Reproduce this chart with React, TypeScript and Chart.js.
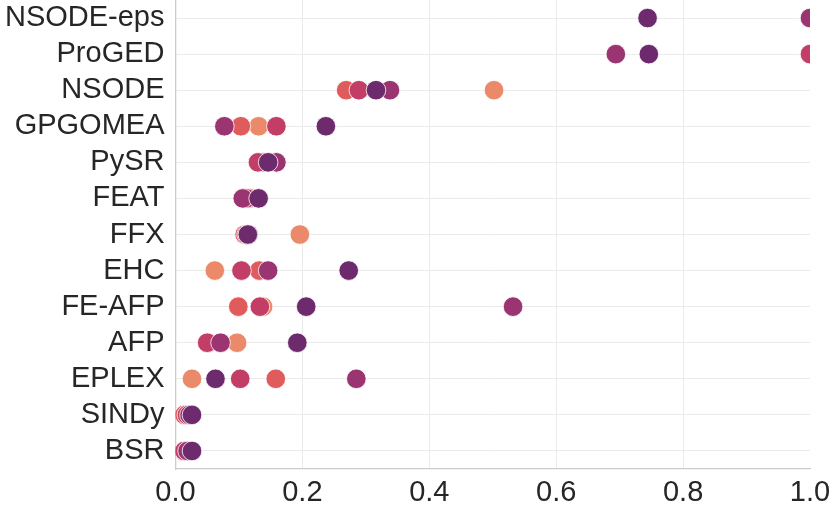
import { useEffect, useRef } from 'react';
import Chart from 'chart.js/auto';

const categories = ['NSODE-eps', 'ProGED', 'NSODE', 'GPGOMEA', 'PySR', 'FEAT', 'FFX', 'EHC', 'FE-AFP', 'AFP', 'EPLEX', 'SINDy', 'BSR'];

const seriesNames = ['Series 1', 'Series 2', 'Series 3', 'Series 4', 'Series 5'];
const seriesColors = ['#EB8A6A', '#E05B5B', '#C23E67', '#9B3571', '#6D2A6D'];

const series1 = [1.0, 1.0, 0.502, 0.131, 0.140, 0.120, 0.196, 0.062, 0.138, 0.097, 0.026, 0.013, 0.012];
const series2 = [1.0, 1.0, 0.269, 0.103, 0.138, 0.117, 0.109, 0.132, 0.099, 0.052, 0.158, 0.014, 0.013];
const series3 = [1.0, 1.0, 0.289, 0.159, 0.130, 0.112, 0.112, 0.104, 0.133, 0.050, 0.102, 0.018, 0.014];
const series4 = [1.0, 0.694, 0.338, 0.077, 0.159, 0.106, 0.115, 0.146, 0.532, 0.071, 0.285, 0.022, 0.019];
const series5 = [0.744, 0.746, 0.316, 0.237, 0.146, 0.131, 0.114, 0.273, 0.206, 0.192, 0.063, 0.026, 0.026];

const allSeries = [series1, series2, series3, series4, series5];

const xTicks = [0, 0.2, 0.4, 0.6, 0.8, 1.0];

export default function App() {
  const chartRef = useRef<HTMLCanvasElement>(null);
  const chartInstance = useRef<Chart | null>(null);

  useEffect(() => {
    if (!chartRef.current) return;
    const ctx = chartRef.current.getContext('2d');
    if (!ctx) return;
    if (chartInstance.current) chartInstance.current.destroy();

    const font = { family: '"Liberation Sans", Arial, sans-serif', size: 29 };

    chartInstance.current = new Chart(ctx, {
      type: 'scatter',
      data: {
        datasets: allSeries.map((vals, i) => ({
          label: seriesNames[i],
          data: vals.map((v, j) => ({ x: v, y: categories[j] })),
          backgroundColor: seriesColors[i],
          borderColor: '#ffffff',
          borderWidth: 0.8,
          pointRadius: 9.8,
          pointHoverRadius: 9.8,
          clip: 0,
          // later series drawn on top
          order: allSeries.length - 1 - i,
        })),
      },
      options: {
        animation: false,
        responsive: false,
        maintainAspectRatio: false,
        layout: { autoPadding: false, padding: { top: 0, right: 21, bottom: 0, left: 0 } },
        plugins: {
          legend: { display: false },
          tooltip: { enabled: false },
        },
        scales: {
          x: {
            type: 'linear',
            min: 0,
            max: 1,
            afterBuildTicks: (scale) => {
              scale.ticks = xTicks.map((v) => ({ value: v }));
            },
            afterFit: (scale) => {
              scale.height = 38;
              scale.paddingLeft = 0;
              scale.paddingRight = 0;
            },
            ticks: {
              color: '#262626',
              font,
              padding: 7,
              maxRotation: 0,
              callback: (value) => Number(value).toFixed(1),
            },
            grid: {
              color: (c) => (c.tick && c.tick.value === 1 ? 'rgba(0,0,0,0)' : '#ebebeb'),
              lineWidth: 1,
              drawTicks: false,
            },
            border: { color: '#cccccc', width: 1.3 },
          },
          y: {
            type: 'category',
            labels: categories,
            offset: true,
            afterFit: (scale) => {
              scale.width = 175.5;
              scale.paddingTop = 0;
              scale.paddingBottom = 0;
            },
            ticks: {
              color: '#262626',
              font,
              padding: 11,
              autoSkip: false,
            },
            grid: {
              offset: false,
              color: '#ebebeb',
              lineWidth: 1,
              drawTicks: false,
            },
            border: { color: '#cccccc', width: 1.3 },
          },
        },
      },
    });

    return () => {
      if (chartInstance.current) {
        chartInstance.current.destroy();
        chartInstance.current = null;
      }
    };
  }, []);

  return (
    <div style={{ position: 'fixed', left: 0, top: 0, width: 831, height: 507, background: '#ffffff' }}>
      <canvas ref={chartRef} width={831} height={507} style={{ width: 831, height: 507 }} />
    </div>
  );
}
